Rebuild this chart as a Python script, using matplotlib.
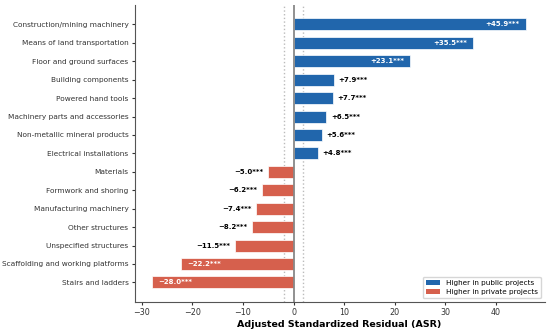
import matplotlib
matplotlib.use("Agg")
import matplotlib.pyplot as plt
from matplotlib.patches import Patch

# ─── DATA ─────────────────────────────────────────────────────
categories = [
    "Construction/mining machinery",
    "Means of land transportation",
    "Floor and ground surfaces",
    "Building components",
    "Powered hand tools",
    "Machinery parts and accessories",
    "Non-metallic mineral products",
    "Electrical installations",
    "Materials",
    "Formwork and shoring",
    "Manufacturing machinery",
    "Other structures",
    "Unspecified structures",
    "Scaffolding and working platforms",
    "Stairs and ladders",
]
asr = [45.9, 35.5, 23.1, 7.9, 7.7, 6.5, 5.6, 4.8,
       -5.0, -6.2, -7.4, -8.2, -11.5, -22.2, -28.0]
sig = ["***"] * len(asr)

BLUE = "#2166ac"
RED = "#d6604d"

# ─── PLOT ─────────────────────────────────────────────────────
fig, ax = plt.subplots(figsize=(5.5, 3.31), dpi=100)
fig.subplots_adjust(left=0.245, right=0.99, top=0.985, bottom=0.088)

ypos = list(range(len(categories)))
colors = [BLUE if v > 0 else RED for v in asr]
ax.barh(ypos, asr, height=0.65, color=colors, edgecolor="white", linewidth=0.5, zorder=3)

ax.axvline(0, color="#888888", linewidth=1.3, zorder=4)
ax.axvline(1.96, color="#bbbbbb", linestyle=":", linewidth=1.0, zorder=2)
ax.axvline(-1.96, color="#bbbbbb", linestyle=":", linewidth=1.0, zorder=2)

LBL = 5.0
for y, v, s in zip(ypos, asr, sig):
    txt = f"{v:+.1f}{s}".replace("-", "\u2212")
    if abs(v) > 20:
        # inside the bar, white
        if v > 0:
            ax.text(v - 1.2, y, txt, ha="right", va="center", color="white",
                    fontsize=LBL, fontweight="bold", zorder=5)
        else:
            ax.text(v + 1.2, y, txt, ha="left", va="center", color="white",
                    fontsize=LBL, fontweight="bold", zorder=5)
    else:
        if v > 0:
            ax.text(v + 0.9, y, txt, ha="left", va="center", color="black",
                    fontsize=LBL, fontweight="bold", zorder=5)
        else:
            ax.text(v - 0.9, y, txt, ha="right", va="center", color="black",
                    fontsize=LBL, fontweight="bold", zorder=5)

ax.set_yticks(ypos)
ax.set_yticklabels(categories, fontsize=5.3)
ax.invert_yaxis()
ax.set_xlim(min(asr) * 1.12, max(asr) * 1.08)
ax.set_xticks([-30, -20, -10, 0, 10, 20, 30, 40])
ax.set_xticklabels(["\u221230", "\u221220", "\u221210", "0", "10", "20", "30", "40"])
ax.tick_params(axis="x", labelsize=5.8, colors="#333333", length=2.5, pad=2)
ax.tick_params(axis="y", colors="#333333", length=2.5, pad=2)
ax.set_xlabel("Adjusted Standardized Residual (ASR)", fontsize=6.8, fontweight="bold", labelpad=2)

for side in ["top", "right"]:
    ax.spines[side].set_visible(False)
for side in ["left", "bottom"]:
    ax.spines[side].set_color("#555555")
    ax.spines[side].set_linewidth(0.8)

handles = [Patch(facecolor=BLUE, label="Higher in public projects"),
           Patch(facecolor=RED, label="Higher in private projects")]
ax.legend(handles=handles, loc="lower right", fontsize=5.2, frameon=True)

fig.savefig("out.png", dpi=100)
